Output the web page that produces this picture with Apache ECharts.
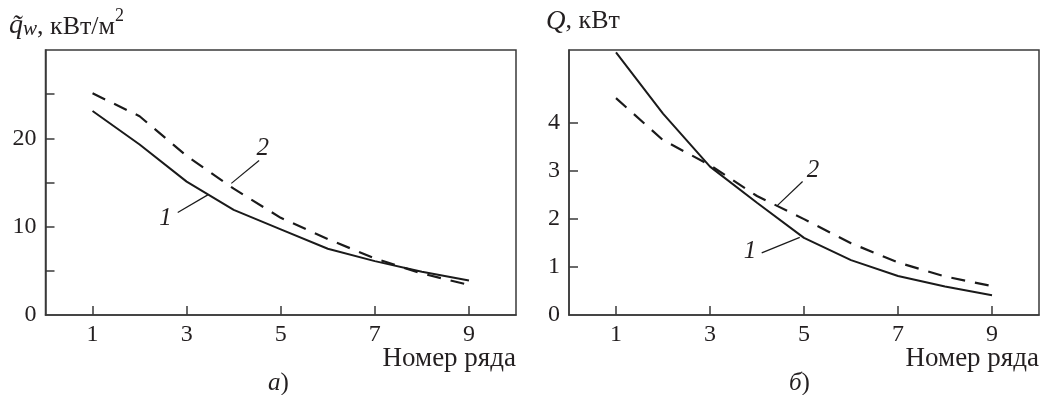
<!DOCTYPE html>
<html><head><meta charset="utf-8">
<script src="https://cdn.jsdelivr.net/npm/echarts@6/dist/echarts.min.js"></script>
<style>html,body{margin:0;padding:0;background:#fff}#c{width:1041px;height:395px}</style>
</head><body><div id="c"></div>
<script>
const rows = [1, 2, 3, 4, 5, 6, 7, 8, 9];
const qw1 = [23.1, 19.3, 15.1, 11.9, 9.7, 7.5, 6.1, 4.9, 3.9];
const qw2 = [25.1, 22.5, 18.0, 14.3, 11.0, 8.6, 6.4, 4.7, 3.4];
const Q1 = [5.45, 4.18, 3.08, 2.33, 1.60, 1.14, 0.81, 0.59, 0.41];
const Q2 = [4.50, 3.63, 3.11, 2.47, 1.99, 1.49, 1.09, 0.80, 0.60];
const xTicks = [1, 3, 5, 7, 9];
const yTicksA = [5, 10, 15, 20, 25];
const yLabelsA = [0, 10, 20];
const yTicksB = [1, 2, 3, 4];
const yLabelsB = [0, 1, 2, 3, 4];

const FONT = '"Liberation Serif", "Times New Roman", serif';
const INK = '#231f20';
const LINE = '#3a3a3a';
const TICKFS = 24;

function pairs(ys) { return rows.map((x, i) => [x, ys[i]]); }

function xAxis(gi) {
  return {
    gridIndex: gi, type: 'value', min: 0, max: 10,
    axisLine: { show: true, onZero: false, lineStyle: { color: LINE, width: 1.5 } },
    axisTick: { show: true, inside: true, length: 9, customValues: xTicks, lineStyle: { color: LINE, width: 1.5 } },
    axisLabel: { customValues: xTicks, color: INK, fontFamily: FONT, fontSize: TICKFS, margin: 8 },
    splitLine: { show: false }
  };
}
function yAxis(gi, max, ticks, labels) {
  return {
    gridIndex: gi, type: 'value', min: 0, max: max,
    axisLine: { show: true, onZero: false, lineStyle: { color: LINE, width: 1.5 } },
    axisTick: { show: true, inside: true, length: 9, customValues: ticks, lineStyle: { color: LINE, width: 1.5 } },
    axisLabel: { customValues: labels, color: INK, fontFamily: FONT, fontSize: TICKFS, margin: 9 },
    splitLine: { show: false }
  };
}
function curve(gi, ys, dashed, ann) {
  const s = {
    type: 'line', xAxisIndex: gi, yAxisIndex: gi, data: pairs(ys),
    showSymbol: false, symbol: 'none', smooth: false,
    lineStyle: { color: '#1a1a1a', width: dashed ? 2.2 : 2, type: dashed ? [14, 10] : 'solid' },
    z: dashed ? 3 : 4
  };
  if (ann) {
    s.markLine = {
      silent: true, symbol: ['none', 'none'], animation: false,
      lineStyle: { color: '#1a1a1a', width: 1.2, type: 'solid' },
      label: { show: false },
      data: [[{ coord: ann.from }, { coord: ann.to }]]
    };
    s.markPoint = {
      silent: true, symbol: 'circle', symbolSize: 0, animation: false,
      label: { show: true, formatter: ann.text, color: INK, fontFamily: FONT, fontStyle: 'italic', fontSize: 25, position: 'inside' },
      data: [{ coord: ann.at }]
    };
  }
  return s;
}

const chart = echarts.init(document.getElementById('c'), null, { renderer: 'canvas' });
chart.setOption({
  animation: false,
  backgroundColor: '#fff',
  grid: [
    { left: 45.5, top: 50, right: 525, bottom: 80, show: true, borderColor: LINE, borderWidth: 1.5, backgroundColor: 'transparent' },
    { left: 569, top: 50, right: 2, bottom: 80, show: true, borderColor: LINE, borderWidth: 1.5, backgroundColor: 'transparent' }
  ],
  xAxis: [xAxis(0), xAxis(1)],
  yAxis: [yAxis(0, 30, yTicksA, yLabelsA), yAxis(1, 5.5, yTicksB, yLabelsB)],
  series: [
    curve(0, qw1, false, { from: [2.81, 11.6], to: [3.45, 13.6], at: [2.55, 10.9], text: '1' }),
    curve(0, qw2, true, { from: [4.54, 17.5], to: [3.95, 14.9], at: [4.62, 18.9], text: '2' }),
    curve(1, Q1, false, { from: [4.10, 1.29], to: [4.91, 1.61], at: [3.85, 1.31], text: '1' }),
    curve(1, Q2, true, { from: [4.97, 2.77], to: [4.42, 2.26], at: [5.19, 3.01], text: '2' })
  ],
  graphic: [
    { type: 'text', left: 9, top: 7, style: {
        text: '{i|q̃}{s|w}{n|, кВт/м}{p|2}',
        fill: INK,
        rich: {
          i: { fontFamily: FONT, fontStyle: 'italic', fontSize: 28, fill: INK, verticalAlign: 'bottom', lineHeight: 33 },
          s: { fontFamily: FONT, fontStyle: 'italic', fontSize: 21, fill: INK, verticalAlign: 'bottom', lineHeight: 28 },
          n: { fontFamily: FONT, fontSize: 26, fill: INK, verticalAlign: 'bottom', lineHeight: 33 },
          p: { fontFamily: FONT, fontSize: 18, fill: INK, verticalAlign: 'top', lineHeight: 30 }
        } } },
    { type: 'text', left: 546, top: 8, style: {
        text: '{i|Q}{n|, кВт}', fill: INK,
        rich: {
          i: { fontFamily: FONT, fontStyle: 'italic', fontSize: 27, fill: INK },
          n: { fontFamily: FONT, fontSize: 26, fill: INK }
        } } },
    { type: 'text', right: 1041 - 516, top: 345, style: { text: 'Номер ряда', fill: INK, font: '27px ' + FONT } },
    { type: 'text', right: 2, top: 345, style: { text: 'Номер ряда', fill: INK, font: '27px ' + FONT } },
    { type: 'text', left: 268, top: 371, style: {
        text: '{i|а}{n|)}', fill: INK,
        rich: { i: { fontFamily: FONT, fontStyle: 'italic', fontSize: 25, fill: INK }, n: { fontFamily: FONT, fontSize: 25, fill: INK } } } },
    { type: 'text', left: 789, top: 371, style: {
        text: '{i|б}{n|)}', fill: INK,
        rich: { i: { fontFamily: FONT, fontStyle: 'italic', fontSize: 25, fill: INK }, n: { fontFamily: FONT, fontSize: 25, fill: INK } } } }
  ]
});
</script></body></html>
